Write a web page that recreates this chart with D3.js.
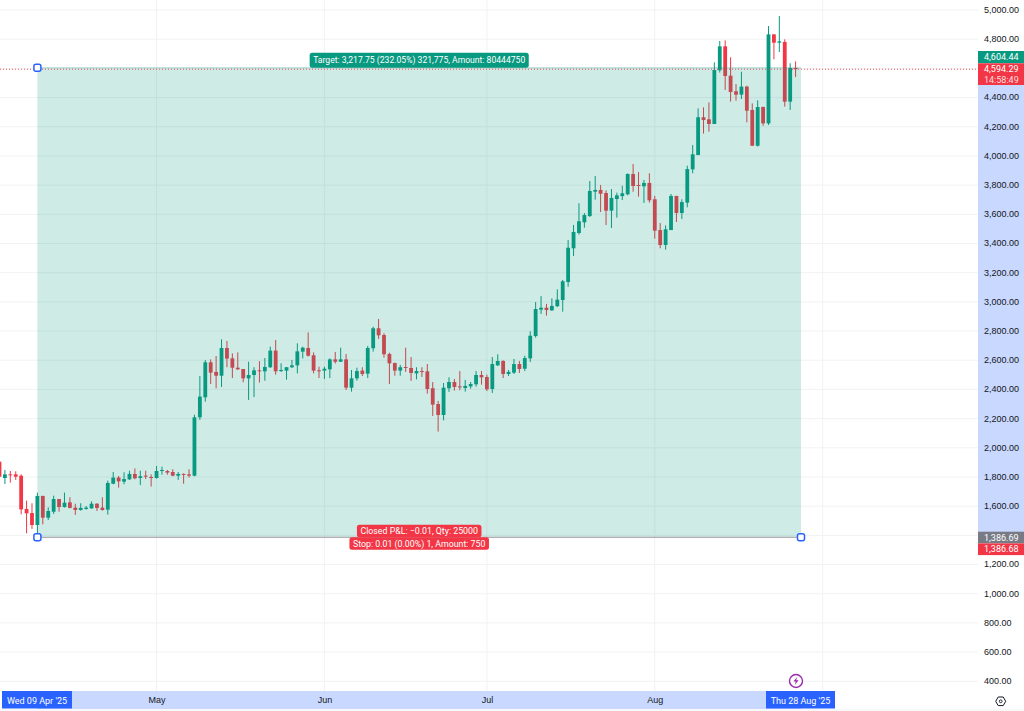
<!DOCTYPE html>
<html>
<head>
<meta charset="utf-8">
<style>
  html, body { margin: 0; padding: 0; background: #fff; overflow: hidden; }
  svg { display: block; font-family: Roboto, sans-serif; }
  .tick-label text, .tag { font-size: 9px; }
</style>
<script src="https://cdnjs.cloudflare.com/ajax/libs/d3/7.8.5/d3.min.js"></script>
</head>
<body>
<svg id="chart" width="1024" height="711"></svg>
<script>
// Daily ETH candles, first session 2 Apr 2025
const firstSession = "2025-04-02";
const opens = [
  1905,1793,1818,1818,1809,1581,1553,
  1471,1670,1521,1562,1649,1594,1626,1590,1574,1581,
  1585,1617,1590,1576,1754,1796,1768,1784,1821,1793,
  1809,1800,1793,1843,1841,1834,1809,1821,1818,1809,
  2209,2346,2586,2520,2494,2684,2613,2549,2540,2476,
  2499,2531,2524,2552,2666,2526,2529,2552,2565,2659,
  2684,2634,2531,2529,2538,2606,2590,2606,2412,2476,
  2529,2508,2682,2819,2773,2643,2581,2529,2554,2547,
  2510,2526,2524,2408,2300,2225,2408,2451,2421,2410,
  2421,2435,2499,2485,2403,2565,2595,2506,2515,2574,
  2542,2613,2766,2947,2960,2942,2970,3013,3136,3367,
  3472,3545,3588,3755,3767,3746,3625,3705,3725,3737,
  3876,3801,3792,3815,3703,3492,3390,3492,3726,3609,
  3680,3908,4006,4265,4251,4219,4587,4751,4550,4443,
  4420,4475,4315,4070,4335,4223,4833,4776,4781,4372,4603
];
const highs = [
  1939,1848,1841,1839,1818,1638,1620,
  1693,1672,1592,1672,1649,1693,1661,1617,1620,1601,
  1633,1620,1661,1775,1834,1807,1832,1843,1859,1843,
  1843,1818,1875,1871,1848,1853,1834,1825,1853,2227,
  2492,2602,2606,2629,2743,2732,2647,2654,2540,2590,
  2552,2593,2615,2693,2739,2579,2554,2602,2716,2693,
  2791,2654,2556,2556,2613,2657,2686,2643,2533,2549,
  2552,2698,2830,2883,2785,2652,2584,2568,2686,2622,
  2552,2552,2574,2451,2321,2444,2483,2472,2526,2465,
  2451,2526,2526,2501,2622,2641,2600,2533,2609,2595,
  2631,2798,2999,3040,2986,3024,3086,3150,3424,3527,
  3675,3609,3828,3862,3801,3764,3773,3748,3796,3881,
  3945,3890,3835,3881,3726,3540,3524,3739,3726,3703,
  3933,4075,4326,4333,4367,4641,4788,4792,4676,4493,
  4577,4481,4360,4381,4338,4890,4833,4959,4799,4635,4648
];
const lows = [
  1798,1752,1761,1780,1544,1414,1444,
  1386.69,1476,1505,1547,1562,1590,1585,1540,1569,1576,
  1583,1567,1569,1542,1750,1727,1750,1780,1784,1745,
  1786,1734,1789,1816,1816,1805,1780,1754,1796,1805,
  2191,2316,2437,2408,2417,2552,2478,2533,2449,2328,
  2348,2447,2460,2547,2501,2520,2467,2547,2510,2613,
  2625,2510,2478,2472,2478,2577,2588,2396,2385,2460,
  2492,2478,2659,2746,2618,2437,2494,2494,2520,2458,
  2469,2485,2371,2218,2111,2188,2383,2392,2394,2385,
  2405,2419,2433,2389,2376,2561,2478,2492,2506,2513,
  2526,2588,2755,2917,2906,2938,2965,2933,3104,3314,
  3461,3508,3582,3700,3616,3527,3506,3577,3698,3730,
  3755,3721,3678,3680,3433,3367,3358,3492,3547,3568,
  3648,3881,4006,4153,4166,4219,4571,4452,4372,4379,
  4390,4230,4068,4064,4207,4212,4662,4712,4338,4315,4541
];
const closes = [
  1802,1818,1814,1802,1578,1551,1471,
  1670,1521,1567,1649,1594,1624,1588,1574,1588,1590,
  1617,1588,1574,1759,1796,1770,1786,1821,1791,1805,
  1802,1798,1841,1848,1830,1809,1821,1818,1809,2209,
  2351,2586,2515,2494,2684,2611,2549,2538,2476,2499,
  2531,2529,2554,2666,2524,2533,2552,2565,2661,2686,
  2631,2529,2529,2542,2606,2590,2606,2412,2476,2526,
  2506,2684,2819,2771,2641,2579,2529,2552,2549,2513,
  2526,2522,2403,2296,2225,2412,2451,2417,2417,2424,
  2437,2499,2483,2401,2574,2595,2506,2520,2574,2540,
  2615,2768,2951,2960,2944,2972,3015,3141,3371,3479,
  3552,3595,3760,3767,3741,3625,3712,3730,3744,3876,
  3794,3794,3815,3696,3488,3390,3497,3726,3609,3684,
  3910,4011,4265,4246,4219,4589,4751,4548,4438,4420,
  4475,4310,4070,4335,4223,4833,4776,4785,4372,4603,4594.29
];

const priceTicks = [5000,4800,4600,4400,4200,4000,3800,3600,3400,3200,3000,2800,2600,2400,2200,2000,1800,1600,1400,1200,1000,800,600,400];
const hiddenPriceTicks = [4600, 1400];
const monthTicks = ["2025-05-01","2025-06-01","2025-07-01","2025-08-01","2025-09-01"];
const monthNames = ["May","Jun","Jul","Aug",""];

// Long position tool
const entryPrice = 4604.44;
const stopPrice = 1386.69;
const stopOrderPrice = 1386.68;
const lastPrice = 4594.29;
const countdown = "14:58:49";
const positionStart = "2025-04-09";
const positionEnd = "2025-08-28";
const targetLabel = "Target: 3,217.75 (232.05%) 321,775, Amount: 80444750";
const closedLabel = "Closed P&L: \u22120.01, Qty: 25000";
const stopLabel = "Stop: 0.01 (0.00%) 1, Amount: 750";
const startTag = "Wed 09 Apr '25";
const endTag = "Thu 28 Aug '25";

const UP = "#089981", DOWN = "#f23645", BLUE = "#2962ff", TEXT = "#131722", GRID = "#f1f2f4";
const paneRight = 978, paneBottom = 691, width = 1024;

const day = s => new Date(s + "T00:00:00Z");
const x = d3.scaleUtc().domain([day(positionStart), day(positionEnd)]).range([37.4, 801]);
const y = d3.scaleLinear().domain([5000, 400]).range([10, 681.3]);
const fmt = d3.format(",.2f");

const candles = opens.map((o, i) => ({
  date: d3.utcDay.offset(day(firstSession), i),
  o, h: highs[i], l: lows[i], c: closes[i]
}));

const svg = d3.select("#chart");

// Grid
const grid = svg.append("g");
grid.selectAll("line.h").data(priceTicks).join("line")
  .attr("x1", 0).attr("x2", paneRight)
  .attr("y1", d => y(d)).attr("y2", d => y(d))
  .attr("stroke", GRID);
grid.selectAll("line.v").data(monthTicks).join("line").attr("class", "v")
  .attr("x1", d => x(day(d))).attr("x2", d => x(day(d)))
  .attr("y1", 0).attr("y2", paneBottom)
  .attr("stroke", GRID);

// Candles
const bodyWidth = 3.8;
const bars = svg.append("g").selectAll("g").data(candles).join("g")
  .attr("fill", d => d.c >= d.o ? UP : DOWN)
  .attr("stroke", d => d.c >= d.o ? UP : DOWN);
bars.append("line")
  .attr("x1", d => x(d.date)).attr("x2", d => x(d.date))
  .attr("y1", d => y(d.h)).attr("y2", d => y(d.l))
  .attr("stroke-width", 1);
bars.append("rect")
  .attr("x", d => x(d.date) - bodyWidth / 2)
  .attr("width", bodyWidth)
  .attr("y", d => y(Math.max(d.o, d.c)))
  .attr("height", d => Math.max(1, Math.abs(y(d.o) - y(d.c))))
  .attr("stroke", "none");

// Position box over the candles
const boxX0 = x(day(positionStart)), boxX1 = x(day(positionEnd));
const boxY0 = y(entryPrice), boxY1 = y(stopPrice);
svg.append("rect")
  .attr("x", boxX0).attr("y", boxY0)
  .attr("width", boxX1 - boxX0).attr("height", boxY1 - boxY0)
  .attr("fill", UP).attr("fill-opacity", 0.2);
svg.append("line")
  .attr("x1", boxX0).attr("x2", boxX1).attr("y1", boxY0).attr("y2", boxY0)
  .attr("stroke", UP).attr("stroke-opacity", 0.25);
svg.append("line")
  .attr("x1", boxX0).attr("x2", boxX1).attr("y1", boxY1).attr("y2", boxY1)
  .attr("stroke", "#a89aa0");

// Last price line
svg.append("line")
  .attr("x1", 0).attr("x2", paneRight)
  .attr("y1", y(lastPrice)).attr("y2", y(lastPrice))
  .attr("stroke", DOWN).attr("stroke-dasharray", "1 2").attr("stroke-opacity", 0.85);

// Drag handles
svg.append("g").selectAll("rect")
  .data([[boxX0, boxY0], [boxX0, boxY1], [boxX1, boxY1]]).join("rect")
  .attr("x", d => d[0] - 3.5).attr("y", d => d[1] - 3.5)
  .attr("width", 7).attr("height", 7).attr("rx", 2)
  .attr("fill", "#fff").attr("stroke", BLUE).attr("stroke-width", 1.5);

// Labels on the box, sized around their text
function pill(label, cx, y0, h, color, size) {
  const g = svg.append("g");
  const t = g.append("text").attr("x", cx).attr("y", y0 + h / 2)
    .attr("text-anchor", "middle").attr("dominant-baseline", "central")
    .attr("font-size", size)
    .attr("fill", "#fff").text(label);
  const w = t.node().getComputedTextLength() + 7;
  g.insert("rect", "text").attr("x", cx - w / 2).attr("y", y0)
    .attr("width", w).attr("height", h).attr("rx", 2.5).attr("fill", color);
}
const boxMid = (boxX0 + boxX1) / 2;
pill(targetLabel, boxMid, boxY0 - 15, 15, UP, 8.6);
pill(closedLabel, boxMid, boxY1 - 12.5, 12.5, DOWN, 8.8);
pill(stopLabel, boxMid, boxY1, 12.5, DOWN, 8.8);

// Highlight bands on both axes
svg.append("rect")
  .attr("x", paneRight).attr("y", boxY0)
  .attr("width", width - paneRight).attr("height", boxY1 - boxY0)
  .attr("fill", BLUE).attr("fill-opacity", 0.25);
svg.append("rect")
  .attr("x", boxX0).attr("y", paneBottom)
  .attr("width", boxX1 - boxX0).attr("height", 18)
  .attr("fill", BLUE).attr("fill-opacity", 0.25);
svg.append("line").attr("x1", 0).attr("x2", width).attr("y1", 710).attr("y2", 710).attr("stroke", GRID);

// Price axis
const yAxis = d3.axisRight(y)
  .tickValues(priceTicks.filter(t => !hiddenPriceTicks.includes(t)))
  .tickSize(0).tickPadding(6).tickFormat(fmt);
svg.append("g").attr("class", "tick-label")
  .attr("transform", `translate(${paneRight},-0.5)`)
  .call(yAxis)
  .call(g => g.select(".domain").remove())
  .call(g => g.selectAll("text").attr("fill", TEXT).attr("font-family", null).attr("font-size", null));

// Time axis
const xAxis = d3.axisBottom(x)
  .tickValues(monthTicks.map(day))
  .tickSize(0).tickPadding(0)
  .tickFormat((d, i) => monthNames[i]);
svg.append("g").attr("class", "tick-label")
  .attr("transform", `translate(0,${paneBottom + 6})`)
  .call(xAxis)
  .call(g => g.select(".domain").remove())
  .call(g => g.selectAll("text").attr("fill", TEXT).attr("font-family", null).attr("font-size", null));

// Price tags on the right edge
function priceTag(y0, h, color, lines) {
  svg.append("rect").attr("x", paneRight).attr("y", y0)
    .attr("width", width - paneRight).attr("height", h).attr("fill", color);
  lines.forEach((txt, i) => {
    svg.append("text").attr("class", "tag")
      .attr("x", paneRight + 6)
      .attr("y", y0 + h * (i + 0.5) / lines.length)
      .attr("dominant-baseline", "central")
      .attr("fill", "#fff")
      .attr("fill-opacity", i === 1 ? 0.85 : 1)
      .text(txt);
  });
}
priceTag(51, 12.3, UP, [fmt(entryPrice)]);
priceTag(63.3, 21.7, DOWN, [fmt(lastPrice), countdown]);
priceTag(531.7, 11.7, "#787b86", [fmt(stopPrice)]);
priceTag(543.4, 11.7, DOWN, [fmt(stopOrderPrice)]);

// Date tags on the time axis
function dateTag(x0, x1, label) {
  svg.append("rect").attr("x", x0).attr("y", paneBottom)
    .attr("width", x1 - x0).attr("height", 17.5).attr("fill", BLUE);
  svg.append("text").attr("class", "tag")
    .attr("x", (x0 + x1) / 2).attr("y", paneBottom + 10)
    .attr("text-anchor", "middle").attr("dominant-baseline", "central")
    .attr("fill", "#fff").text(label);
}
dateTag(2, 72, startTag);
dateTag(766, 835, endTag);

// Event marker
const marker = svg.append("g").attr("transform", "translate(796,681)");
marker.append("circle").attr("r", 6.5).attr("fill", "#fff").attr("stroke", "#9c27b0").attr("stroke-width", 1.4);
marker.append("path").attr("d", "M1.2,-4 L-2.6,0.6 L-0.2,0.6 L-1.2,4 L2.6,-0.8 L0.2,-0.8 Z").attr("fill", "#9c27b0");

// Settings glyph
const gear = svg.append("g").attr("transform", "translate(1000.7,701.3)");
gear.append("path").attr("d", "M-5,0 L-2.5,-4.3 L2.5,-4.3 L5,0 L2.5,4.3 L-2.5,4.3 Z")
  .attr("fill", "none").attr("stroke", TEXT).attr("stroke-linejoin", "round");
gear.append("circle").attr("r", 1.4).attr("fill", "none").attr("stroke", TEXT).attr("stroke-width", 0.9);
</script>
</body>
</html>
